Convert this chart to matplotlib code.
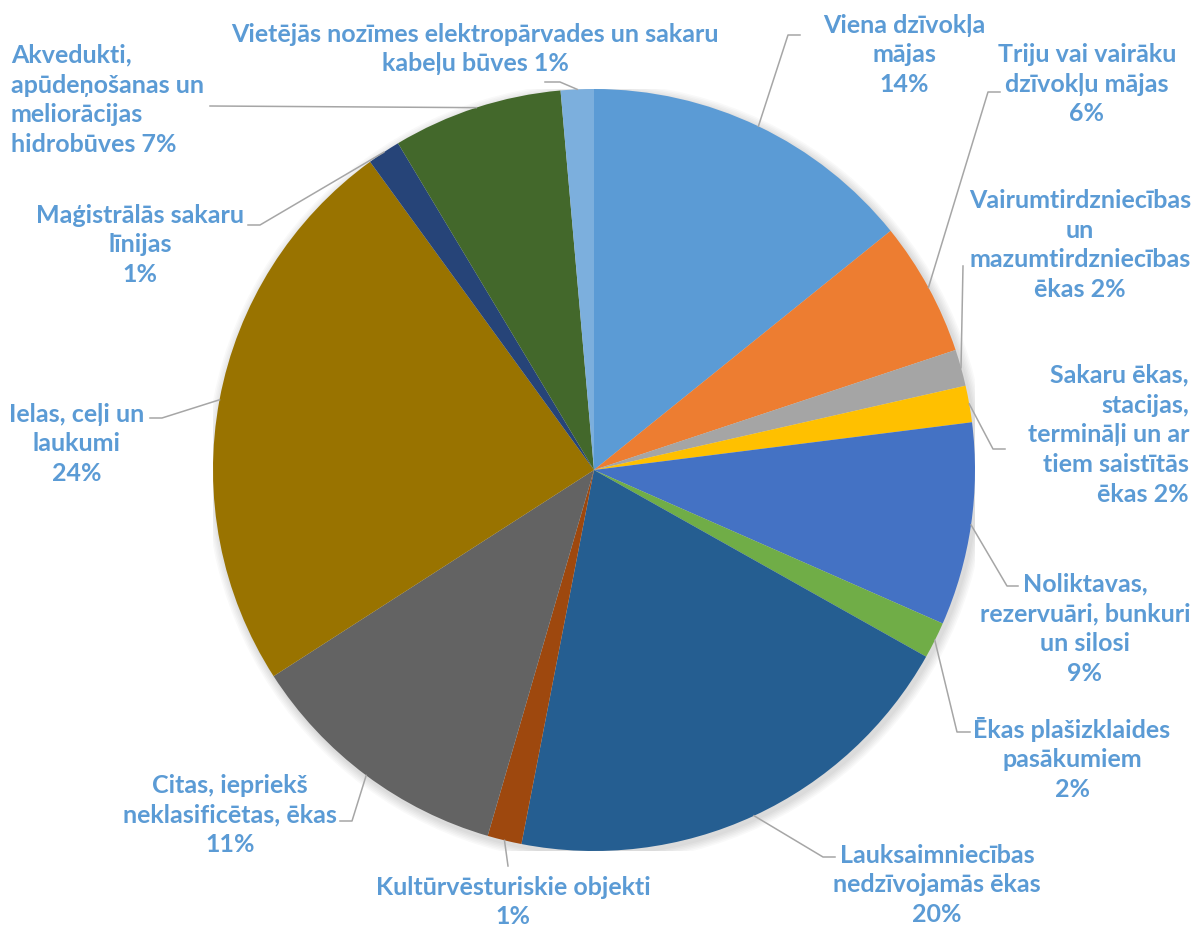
import numpy as np
import matplotlib.pyplot as plt
from matplotlib.patches import Circle

plt.rcParams['font.family'] = ['Lato', 'DejaVu Sans']

# --- DATI (nolasīti no attēla, % no kopējā) ---
kategorijas = [
    "Viena dzīvokļa\nmājas\n{}",
    "Triju vai vairāku\ndzīvokļu mājas\n{}",
    "Vairumtirdzniecības\nun\nmazumtirdzniecības\nēkas {}",
    "Sakaru ēkas,\nstacijas,\ntermināļi un ar\ntiem saistītās\nēkas {}",
    "Noliktavas,\nrezervuāri, bunkuri\nun silosi\n{}",
    "Ēkas plašizklaides\npasākumiem\n{}",
    "Lauksaimniecības\nnedzīvojamās ēkas\n{}",
    "Kultūrvēsturiskie objekti\n{}",
    "Citas, iepriekš\nneklasificētas, ēkas\n{}",
    "Ielas, ceļi un\nlaukumi\n{}",
    "Maģistrālās sakaru\nlīnijas\n{}",
    "Akvedukti,\napūdeņošanas un\nmeliorācijas\nhidrobūves {}",
    "Vietējās nozīmes elektropārvades un sakaru\nkabeļu būves {}",
]
vertibas = [14.2, 5.7, 1.55, 1.55, 8.6, 1.55, 19.9, 1.45, 11.4, 24.1, 1.4, 7.2, 1.4]
krasas = ['#5B9BD5', '#ED7D31', '#A5A5A5', '#FFC000', '#4472C4', '#70AD47',
          '#255E91', '#9E480E', '#636363', '#997300', '#264478', '#43682B', '#7CAFDD']

# --- izkārtojums (pikseļos no augšējā kreisā stūra) ---
# teksta centrs, izlīdzinājums, lauzuma punkti līnijai
etiketes = [
    ((904, 55), 'center', [(788, 36), (800, 36)]),
    ((1087, 84), 'center', [(988, 93), (1000, 93)]),
    ((1080, 245), 'center', [(963, 267)]),
    ((1189, 435), 'right', [(993, 450), (1005, 450)]),
    ((1085, 629), 'center', [(1007, 587), (1018, 587)]),
    ((1072, 759), 'center', [(957, 733), (970, 733)]),
    ((937, 885), 'center', [(823, 858), (835, 858)]),
    ((513, 902), 'center', [(508, 867)]),
    ((230, 815), 'center', [(352, 822), (340, 822)]),
    ((77, 444), 'center', [(162, 419), (150, 419)]),
    ((140, 245), 'center', [(260, 226), (248, 226)]),
    ((11, 100), 'left', [(210, 107)]),
    ((475, 49), 'center', [(560, 83), (545, 83)]),
]

W, H = 1195, 929
X0, Y0, R = 594, 471, 381


def pix(x, y):
    return (x - X0) / R, (Y0 - y) / R


fig = plt.figure(figsize=(W / 100, H / 100), dpi=100)
ax = fig.add_axes([(X0 - R) / W, (H - Y0 - R) / H, 2 * R / W, 2 * R / H])

# maiga ēna aiz diagrammas
for k in range(6):
    ax.add_patch(Circle((0.006, -0.008), 1.0 + 0.004 * (k + 1), color='black',
                        alpha=0.025, lw=0, zorder=0))

wedges, _ = ax.pie(vertibas, colors=krasas, startangle=90, counterclock=False,
                   radius=1.0, wedgeprops=dict(linewidth=0))
ax.set_xlim(-1, 1)
ax.set_ylim(-1, 1)
ax.set_aspect('equal')
ax.axis('off')

kopa = sum(vertibas)
for w, teksts, v, (poz, ha, punkti) in zip(wedges, kategorijas, vertibas, etiketes):
    mid = np.deg2rad((w.theta1 + w.theta2) / 2)
    ex, ey = np.cos(mid), np.sin(mid)
    xs = [ex] + [pix(*p)[0] for p in punkti]
    ys = [ey] + [pix(*p)[1] for p in punkti]
    ax.plot(xs, ys, color='#A6A6A6', lw=1.1, clip_on=False, zorder=1)
    tx, ty = pix(*poz)
    ax.text(tx, ty, teksts.format(f"{round(v / kopa * 100)}%"), ha=ha, va='center',
            multialignment=ha, fontsize=18, fontweight='bold', color='#5B9BD5',
            linespacing=1.36)

fig.savefig('out.png', dpi=100, facecolor='white')
